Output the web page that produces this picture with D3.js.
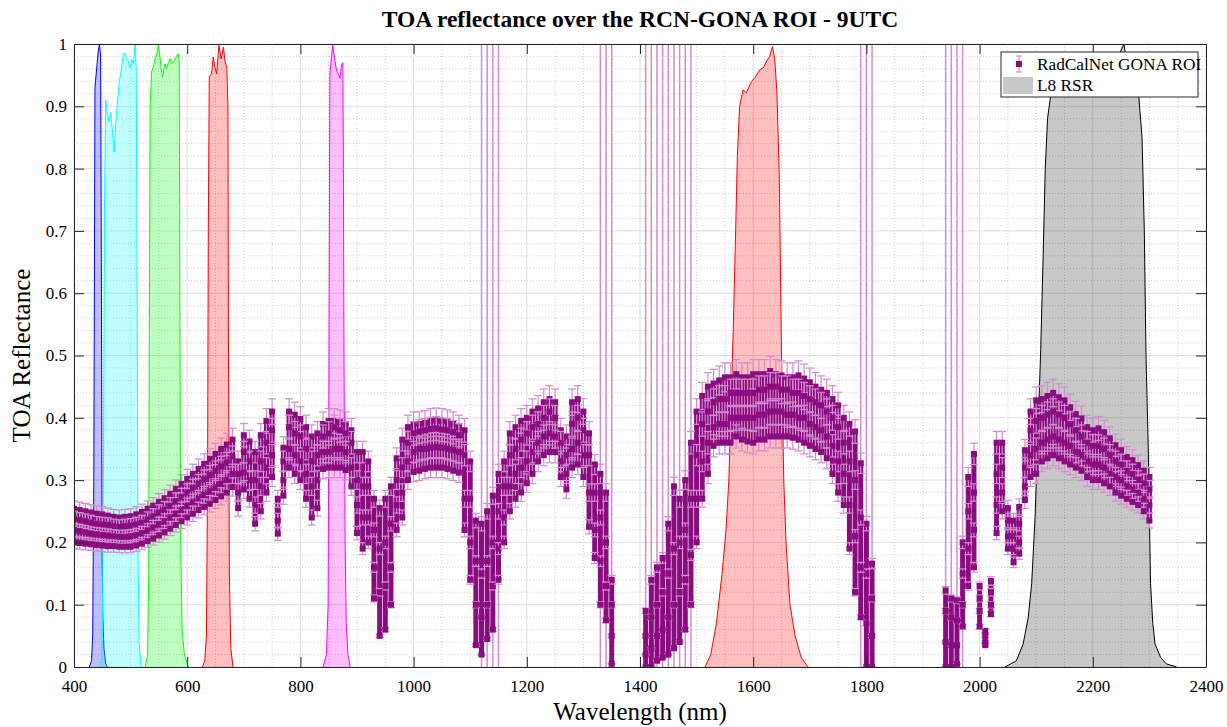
<!DOCTYPE html>
<html>
<head>
<meta charset="utf-8">
<script src="https://cdn.jsdelivr.net/npm/d3@7/dist/d3.min.js"></script>
<style>
  body { margin: 0; background: #fff; }
  svg text { font-family: "Liberation Serif", serif; fill: #000; }
</style>
</head>
<body>
<div id="chart_area"></div>
<script>
// RadCalNet wavelength grid (nm)
const wlStart = 400;
const wlEnd = 2300;
const wlStep = 10;
const wavelengths = d3.range(wlStart, wlEnd + 1, wlStep);

// TOA reflectance, four acquisitions at 9UTC (null = no data)
const toaA = [
  .254, .252, .250, .248, .246, .245, .243, .241, .240, .241,
  .242, .245, .249, .254, .259, .265, .271, .278, .286, .294,
  .302, .310, .318, .326, .334, .342, .350, .357, .365, .330,
  .372, .362, .345, .372, .395, .410, .270, .352, .410, .405,
  .398, .385, .370, .375, .390, .395, .395, .393, .390, .380,
  .345, .345, .330, .270, .255, .270, .290, .335, .365, .385,
  .390, .390, .392, .395, .396, .395, .393, .390, .385, .380,
  .330, .235, .230, .250, .275, .310, .330, .375, .385, .395,
  .400, .410, .415, .425, .430, .425, .380, .370, .425, .430,
  .410, .375, .325, .310, .280, .140, null, null, null, null,
  null, .090, .140, .160, .175, .230, .290, .270, .300, .360,
  .410, .435, .450, .455, .460, .465, .465, .470, .465, .465,
  .470, .470, .470, .475, .470, .468, .465, .465, .468, .463,
  .457, .450, .445, .440, .430, .420, .400, .390, .378, .327,
  .230, .166, null, null, null, null, null, null, null, null,
  null, null, null, null, .123, .110, .107, .200, .305, .342,
  .130, .058, .138, .360, .360, .255, .235, .257, .348, .410,
  .428, .430, .435, .440, .433, .428, .417, .406, .399, .385,
  .380, .383, .377, .367, .356, .348, .337, .332, .324, .315,
  .305
];
const toaB = [
  .238, .236, .234, .232, .230, .229, .228, .226, .225, .226,
  .227, .229, .232, .237, .242, .248, .253, .259, .266, .273,
  .280, .287, .294, .301, .308, .315, .322, .328, .338, .310,
  .345, .330, .300, .330, .360, .380, .250, .330, .385, .375,
  .370, .350, .330, .340, .370, .375, .385, .380, .375, .360,
  .300, .290, .290, .220, .190, .200, .230, .300, .320, .360,
  .375, .378, .380, .382, .383, .381, .380, .377, .372, .340,
  .270, .170, .150, .170, .200, .250, .290, .340, .350, .365,
  .375, .385, .390, .400, .410, .400, .360, .340, .390, .400,
  .380, .340, .280, .240, .200, .100, null, null, null, null,
  null, .050, .080, .100, .120, .150, .190, .200, .220, .270,
  .340, .390, .410, .425, .430, .430, .440, .440, .440, .440,
  .440, .445, .445, .450, .450, .445, .445, .440, .440, .435,
  .430, .425, .420, .410, .400, .385, .360, .330, .300, .240,
  .150, .110, null, null, null, null, null, null, null, null,
  null, null, null, null, .090, .080, .075, .150, .250, .280,
  .110, .050, .120, .310, .320, .235, .210, .230, .320, .380,
  .395, .400, .405, .410, .405, .400, .390, .380, .370, .360,
  .355, .355, .350, .340, .330, .325, .315, .310, .300, .295,
  .285
];
const toaC = [
  .220, .218, .216, .214, .213, .212, .211, .210, .209, .209,
  .210, .212, .215, .219, .224, .229, .234, .240, .246, .252,
  .258, .264, .270, .276, .282, .288, .294, .300, .310, .280,
  .312, .300, .260, .290, .320, .340, .235, .300, .350, .340,
  .330, .310, .290, .300, .345, .345, .350, .350, .345, .320,
  .260, .240, .240, .160, .120, .130, .160, .260, .280, .330,
  .345, .350, .350, .352, .353, .352, .350, .348, .345, .270,
  .200, .100, .080, .100, .130, .190, .240, .290, .310, .320,
  .330, .345, .360, .370, .375, .370, .330, .310, .350, .360,
  .340, .280, .220, .170, .130, .050, null, null, null, null,
  null, .020, .030, .050, .060, .080, .100, .120, .140, .180,
  .270, .330, .360, .385, .390, .390, .400, .400, .400, .400,
  .400, .405, .405, .410, .410, .410, .405, .405, .400, .400,
  .390, .385, .380, .370, .355, .330, .310, .260, .210, .160,
  .070, .050, null, null, null, null, null, null, null, null,
  null, null, null, null, .040, .035, .035, .100, .190, .220,
  .090, .040, .100, .260, .280, .210, .190, .200, .290, .340,
  .350, .360, .365, .370, .365, .360, .355, .345, .340, .330,
  .325, .325, .320, .310, .305, .300, .290, .285, .280, .270,
  .260
];
const toaD = [
  .200, .199, .198, .197, .196, .195, .194, .194, .193, .193,
  .193, .195, .198, .202, .206, .211, .216, .222, .228, .234,
  .240, .246, .252, .257, .262, .268, .274, .280, .289, .255,
  .285, .270, .230, .250, .280, .305, .214, .275, .320, .310,
  .300, .270, .240, .255, .318, .320, .320, .320, .316, .290,
  .215, .190, .200, .110, .050, .060, .100, .220, .240, .300,
  .313, .315, .318, .320, .320, .320, .318, .315, .312, .220,
  .140, .035, .020, .045, .060, .140, .200, .250, .270, .280,
  .295, .310, .330, .340, .345, .345, .305, .285, .320, .325,
  .305, .225, .175, .100, .075, .005, null, null, null, null,
  null, .000, .000, .010, .015, .020, .030, .040, .060, .100,
  .200, .270, .310, .355, .360, .360, .360, .370, .365, .362,
  .360, .365, .365, .370, .370, .370, .370, .368, .365, .360,
  .355, .350, .345, .335, .310, .280, .260, .190, .120, .080,
  .000, .000, null, null, null, null, null, null, null, null,
  null, null, null, null, .000, .000, .005, .065, .130, .160,
  .065, .035, .085, .215, .250, .190, .168, .182, .268, .305,
  .310, .330, .335, .340, .335, .330, .325, .320, .315, .305,
  .300, .300, .295, .290, .280, .275, .270, .265, .260, .250,
  .235
];
// relative uncertainty of the RadCalNet product
const relUncertainty = 0.05;
// wavelengths whose uncertainty runs off the axes
const saturatedWl = [1120, 1130, 1140, 1150, 1330, 1340, 1350,
  1410, 1420, 1430, 1440, 1450, 1460, 1470, 1480, 1490,
  1790, 1800, 1810, 1940, 1950, 1960, 1970];

// Landsat 8 OLI relative spectral responses
const coastalWl = [427, 431, 433, 435, 436, 437, 440, 443, 445, 447, 448.5, 449.5, 451, 453, 456, 459];
const coastalRsr = [0, 0.01, 0.05, 0.3, 0.6, 0.93, 0.96, 0.99, 1.0, 0.98, 0.6, 0.2, 0.08, 0.03, 0.005, 0];
const blueWl = [444, 448, 450, 452, 454, 456, 459, 462, 465, 468, 471, 474, 477, 480, 483, 487, 490, 493, 496, 499, 502, 505, 508, 510, 511.5, 513, 515, 518, 521];
const blueRsr = [0, 0.01, 0.05, 0.3, 0.75, 0.91, 0.89, 0.875, 0.89, 0.86, 0.826, 0.875, 0.91, 0.94, 0.955, 0.985, 0.985, 0.978, 0.972, 0.962, 0.975, 0.968, 1.0, 0.96, 0.6, 0.2, 0.04, 0.005, 0];
const greenWl = [526, 530, 532, 533, 534.5, 537, 540, 543, 546, 549, 552, 554, 556.6, 559, 560.7, 563.7, 566.5, 569.6, 572.5, 575.5, 578.5, 581.4, 584.3, 586, 587, 588.5, 591, 595, 602];
const greenRsr = [0, 0.02, 0.15, 0.5, 0.9, 0.955, 0.963, 0.975, 0.982, 0.998, 0.979, 0.96, 0.947, 0.96, 0.968, 0.96, 0.97, 0.976, 0.968, 0.971, 0.975, 0.982, 0.984, 0.97, 0.6, 0.2, 0.06, 0.02, 0];
const redWl = [627, 631, 634, 636, 637.3, 639, 643, 646, 649, 652, 656, 660, 664, 667, 670, 672, 673, 674.5, 677, 681];
const redRsr = [0, 0.01, 0.05, 0.3, 0.7, 0.948, 0.952, 0.979, 0.963, 0.952, 0.998, 0.976, 0.995, 0.971, 0.963, 0.9, 0.5, 0.15, 0.03, 0];
const nirWl = [840, 846, 849, 850.5, 852, 855, 857, 859, 861, 863, 865, 868, 870, 872, 873.5, 875, 876, 877, 879, 881, 884, 888];
const nirRsr = [0, 0.02, 0.1, 0.5, 0.95, 0.98, 0.998, 0.985, 0.974, 0.962, 0.955, 0.95, 0.945, 0.962, 0.968, 0.97, 0.8, 0.5, 0.2, 0.07, 0.02, 0];
const swir1Wl = [1515, 1525, 1535, 1545, 1552, 1557, 1561, 1565, 1569, 1572, 1576, 1582, 1588, 1597, 1603, 1612, 1618, 1624, 1629, 1634, 1638, 1642, 1646, 1648, 1650, 1652, 1654, 1658, 1665, 1674, 1685, 1697];
const swir1Rsr = [0, 0.02, 0.07, 0.15, 0.22, 0.3, 0.42, 0.55, 0.7, 0.82, 0.9, 0.926, 0.922, 0.94, 0.946, 0.959, 0.962, 0.973, 0.98, 0.996, 0.977, 0.92, 0.79, 0.65, 0.5, 0.4, 0.3, 0.2, 0.1, 0.05, 0.015, 0];
const swir2Wl = [2045, 2065, 2077, 2086, 2092, 2098, 2104, 2108, 2112, 2116, 2120, 2126, 2140, 2160, 2180, 2200, 2220, 2240, 2250, 2255, 2260, 2270, 2280, 2287, 2291, 2294, 2298, 2302, 2306, 2310, 2320, 2330, 2348];
const swir2Rsr = [0, 0.01, 0.037, 0.08, 0.134, 0.24, 0.4, 0.51, 0.65, 0.8, 0.88, 0.92, 0.93, 0.94, 0.95, 0.95, 0.96, 0.97, 0.99, 1.0, 0.97, 0.96, 0.93, 0.85, 0.7, 0.5, 0.35, 0.134, 0.07, 0.037, 0.015, 0.005, 0];

const xTicks = [400, 600, 800, 1000, 1200, 1400, 1600, 1800, 2000, 2200, 2400];
const yTicks = [0, 0.1, 0.2, 0.3, 0.4, 0.5, 0.6, 0.7, 0.8, 0.9, 1];

const margin = { top: 44, right: 21, bottom: 60, left: 74 };
const svgWidth = 1227;
const svgHeight = 727;
const width = svgWidth - margin.left - margin.right;
const height = svgHeight - margin.top - margin.bottom;
const markerColor = '#8a0a80';
const barColor = '#d48bd0';
const axisColor = '#262626';
const serif = '"Liberation Serif", serif';

const svg = d3
  .select('#chart_area')
  .append('svg')
  .attr('width', svgWidth)
  .attr('height', svgHeight);
const g = svg
  .append('g')
  .attr('transform', 'translate(' + margin.left + ',' + margin.top + ')');

const x = d3.scaleLinear().domain([400, 2400]).range([0, width]);
const y = d3.scaleLinear().domain([0, 1]).range([height, 0]);

svg
  .append('defs')
  .append('clipPath')
  .attr('id', 'plot_clip')
  .append('rect')
  .attr('width', width)
  .attr('height', height);

// grid: minor dotted first, then major solid
const grid = g.append('g');
const xMinor = d3.range(400, 2401, 50).filter((v) => v % 200 !== 0);
const yMinor = d3.range(0, 51, 1).filter((v) => v % 5 !== 0).map((v) => v / 50);
grid
  .selectAll('line.xminor')
  .data(xMinor)
  .join('line')
  .attr('x1', (d) => x(d))
  .attr('x2', (d) => x(d))
  .attr('y1', 0)
  .attr('y2', height)
  .attr('stroke', '#cfcfcf')
  .attr('stroke-dasharray', '1,2');
grid
  .selectAll('line.yminor')
  .data(yMinor)
  .join('line')
  .attr('x1', 0)
  .attr('x2', width)
  .attr('y1', (d) => y(d))
  .attr('y2', (d) => y(d))
  .attr('stroke', '#cfcfcf')
  .attr('stroke-dasharray', '1,2');
grid
  .selectAll('line.xmajor')
  .data(xTicks)
  .join('line')
  .attr('x1', (d) => x(d))
  .attr('x2', (d) => x(d))
  .attr('y1', 0)
  .attr('y2', height)
  .attr('stroke', '#e0e0e0');
grid
  .selectAll('line.ymajor')
  .data(yTicks)
  .join('line')
  .attr('x1', 0)
  .attr('x2', width)
  .attr('y1', (d) => y(d))
  .attr('y2', (d) => y(d))
  .attr('stroke', '#e0e0e0');

// spectral response bands
const bands = [
  { wl: coastalWl, rsr: coastalRsr, line: '#0000ff', fill: '#0000ff', alpha: 0.25 },
  { wl: blueWl, rsr: blueRsr, line: '#00ffff', fill: '#00ffff', alpha: 0.25 },
  { wl: greenWl, rsr: greenRsr, line: '#00ff00', fill: '#00ff00', alpha: 0.25 },
  { wl: redWl, rsr: redRsr, line: '#ff0000', fill: '#ff0000', alpha: 0.25 },
  { wl: nirWl, rsr: nirRsr, line: '#ff00ff', fill: '#ff00ff', alpha: 0.25 },
  { wl: swir1Wl, rsr: swir1Rsr, line: '#ff0000', fill: '#ff0000', alpha: 0.25 },
  { wl: swir2Wl, rsr: swir2Rsr, line: '#000000', fill: '#000000', alpha: 0.215 }
];
const bandLayer = g.append('g').attr('clip-path', 'url(#plot_clip)');
const area = d3
  .area()
  .x((d) => x(d[0]))
  .y0(y(0))
  .y1((d) => y(d[1]));
const line = d3
  .line()
  .x((d) => x(d[0]))
  .y((d) => y(d[1]));
bands.forEach((band) => {
  const pts = band.wl.map((w, i) => [w, band.rsr[i]]);
  bandLayer
    .append('path')
    .attr('d', area(pts))
    .attr('fill', band.fill)
    .attr('fill-opacity', band.alpha);
  bandLayer
    .append('path')
    .attr('d', line(pts))
    .attr('fill', 'none')
    .attr('stroke', band.line)
    .attr('stroke-width', 1);
});

// RadCalNet data with error bars
const allSeries = [toaA, toaB, toaC, toaD];
const dataLayer = g.append('g').attr('clip-path', 'url(#plot_clip)');
dataLayer
  .selectAll('line.sat')
  .data(saturatedWl)
  .join('line')
  .attr('x1', (d) => x(d))
  .attr('x2', (d) => x(d))
  .attr('y1', y(0))
  .attr('y2', y(1))
  .attr('stroke', barColor)
  .attr('stroke-width', 1.5);

// spread of the acquisitions at each wavelength (stacked markers)
const spread = wavelengths
  .map((w, i) => {
    const vs = allSeries.map((s) => s[i]).filter((v) => v !== null);
    return vs.length ? { w: w, lo: d3.min(vs), hi: d3.max(vs) } : null;
  })
  .filter((d) => d !== null);
dataLayer
  .append('g')
  .selectAll('rect')
  .data(spread)
  .join('rect')
  .attr('x', (d) => x(d.w) - 2.5)
  .attr('y', (d) => y(d.hi))
  .attr('width', 5)
  .attr('height', (d) => y(d.lo) - y(d.hi))
  .attr('fill', markerColor);

const capW = 4;
const mk = 6;
allSeries.forEach((vals) => {
  const pts = wavelengths
    .map((w, i) => ({ w: w, v: vals[i] }))
    .filter((d) => d.v !== null);
  const s = dataLayer.append('g');
  const eb = s.append('g').attr('stroke', barColor).attr('stroke-width', 1.2);
  eb.selectAll('line.v')
    .data(pts)
    .join('line')
    .attr('x1', (d) => x(d.w))
    .attr('x2', (d) => x(d.w))
    .attr('y1', (d) => y(d.v * (1 + relUncertainty)))
    .attr('y2', (d) => y(d.v * (1 - relUncertainty)));
  eb.selectAll('line.t')
    .data(pts)
    .join('line')
    .attr('x1', (d) => x(d.w) - capW)
    .attr('x2', (d) => x(d.w) + capW)
    .attr('y1', (d) => y(d.v * (1 + relUncertainty)))
    .attr('y2', (d) => y(d.v * (1 + relUncertainty)));
  eb.selectAll('line.b')
    .data(pts)
    .join('line')
    .attr('x1', (d) => x(d.w) - capW)
    .attr('x2', (d) => x(d.w) + capW)
    .attr('y1', (d) => y(d.v * (1 - relUncertainty)))
    .attr('y2', (d) => y(d.v * (1 - relUncertainty)));
  s.append('g')
    .selectAll('rect')
    .data(pts)
    .join('rect')
    .attr('x', (d) => x(d.w) - mk / 2)
    .attr('y', (d) => y(d.v) - mk / 2)
    .attr('width', mk)
    .attr('height', mk)
    .attr('fill', markerColor);
});

// axes, ticks inward on all four sides
const tickFont = 17;
const xAxis = g
  .append('g')
  .attr('transform', 'translate(0,' + height + ')')
  .call(
    d3
      .axisBottom(x)
      .tickValues(xTicks)
      .tickSizeInner(-10)
      .tickSizeOuter(0)
      .tickPadding(13)
      .tickFormat(d3.format('d'))
  );
const yAxis = g
  .append('g')
  .call(
    d3
      .axisLeft(y)
      .tickValues(yTicks)
      .tickSizeInner(-10)
      .tickSizeOuter(0)
      .tickPadding(7)
      .tickFormat((d) => String(+d.toFixed(1)))
  );
const topAxis = g
  .append('g')
  .call(d3.axisTop(x).tickValues(xTicks).tickSizeInner(-10).tickSizeOuter(0).tickFormat(''));
const rightAxis = g
  .append('g')
  .attr('transform', 'translate(' + width + ',0)')
  .call(d3.axisRight(y).tickValues(yTicks).tickSizeInner(-10).tickSizeOuter(0).tickFormat(''));
[xAxis, yAxis, topAxis, rightAxis].forEach((ax) => {
  ax.attr('font-family', serif).attr('font-size', tickFont);
  ax.selectAll('path, line').attr('stroke', axisColor);
  ax.selectAll('text').attr('fill', '#000');
});

// legend
const legend = g.append('g').attr('transform', 'translate(' + (x(2400) - 8 - 197) + ',8)');
legend
  .append('rect')
  .attr('width', 197)
  .attr('height', 45)
  .attr('fill', '#fff')
  .attr('stroke', axisColor)
  .attr('stroke-width', 1);
const li = legend.append('g').attr('transform', 'translate(18,12)');
li.append('line').attr('x1', 0).attr('x2', 0).attr('y1', -8).attr('y2', 8).attr('stroke', barColor).attr('stroke-width', 1.2);
li.append('line').attr('x1', -3).attr('x2', 3).attr('y1', -8).attr('y2', -8).attr('stroke', barColor).attr('stroke-width', 1.2);
li.append('line').attr('x1', -3).attr('x2', 3).attr('y1', 8).attr('y2', 8).attr('stroke', barColor).attr('stroke-width', 1.2);
li.append('rect').attr('x', -3).attr('y', -3).attr('width', 6).attr('height', 6).attr('fill', markerColor);
legend
  .append('text')
  .attr('x', 36)
  .attr('y', 18)
  .attr('font-size', 17.3)
  .text('RadCalNet GONA ROI');
legend
  .append('rect')
  .attr('x', 2)
  .attr('y', 25)
  .attr('width', 30)
  .attr('height', 17)
  .attr('fill', '#000')
  .attr('fill-opacity', 0.215);
legend
  .append('text')
  .attr('x', 36)
  .attr('y', 39)
  .attr('font-size', 17.3)
  .text('L8 RSR');

// titles
svg
  .append('text')
  .attr('x', margin.left + width / 2)
  .attr('y', 27)
  .attr('text-anchor', 'middle')
  .attr('font-size', 23.5)
  .attr('font-weight', 'bold')
  .text('TOA reflectance over the RCN-GONA ROI - 9UTC');
svg
  .append('text')
  .attr('x', margin.left + width / 2)
  .attr('y', 720)
  .attr('text-anchor', 'middle')
  .attr('font-size', 25)
  .text('Wavelength (nm)');
svg
  .append('text')
  .attr('transform', 'translate(30,' + (margin.top + height / 2) + ') rotate(-90)')
  .attr('text-anchor', 'middle')
  .attr('font-size', 25)
  .text('TOA Reflectance');
</script>
</body>
</html>
